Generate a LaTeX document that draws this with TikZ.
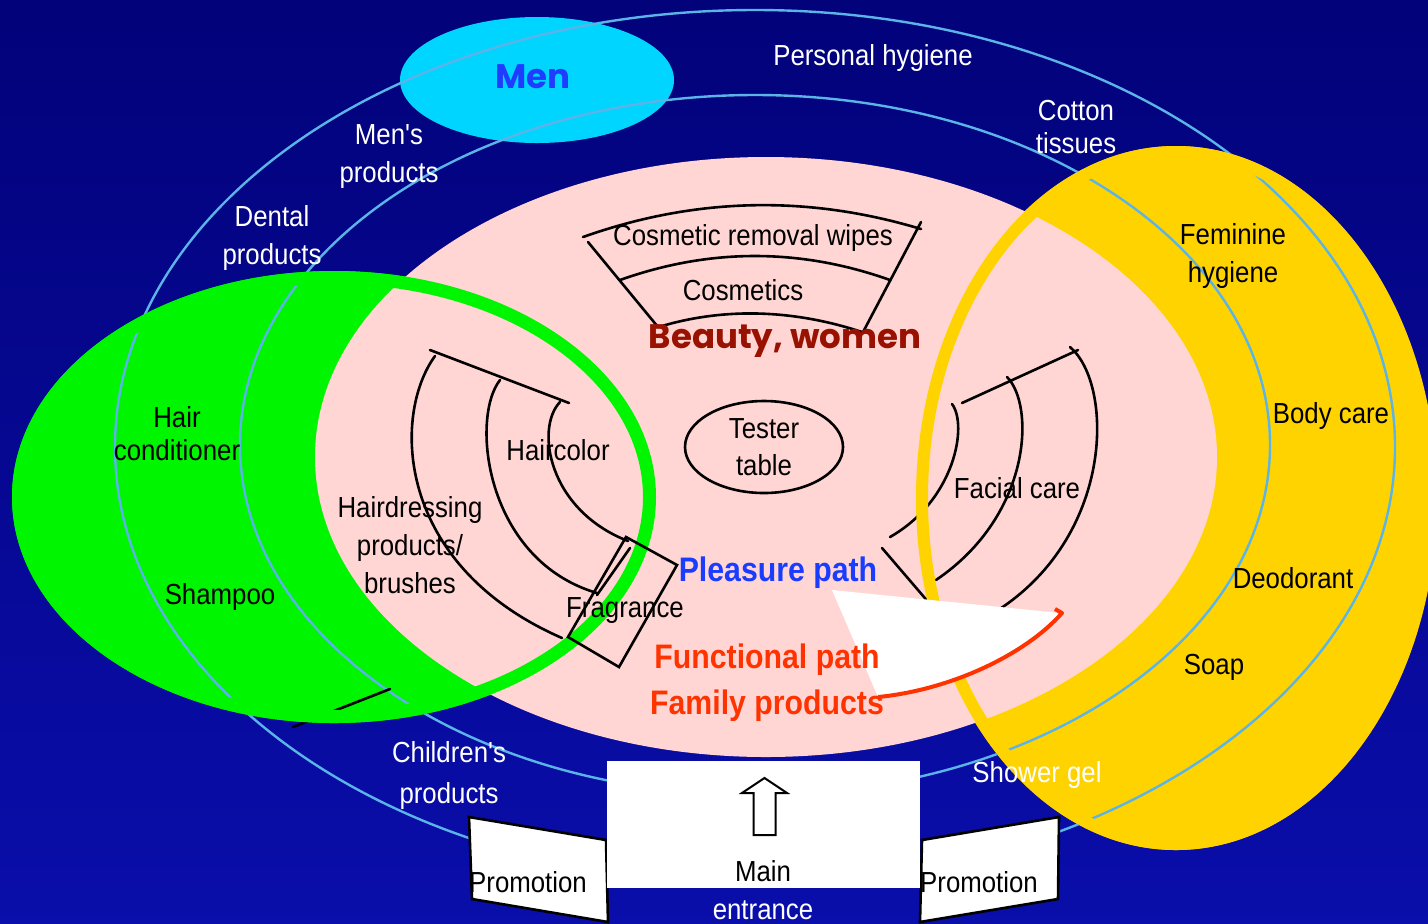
\documentclass[tikz,border=0pt]{standalone}
\usepackage{fontspec}
\setmainfont{Liberation Sans}[FakeStretch=0.89, Ligatures=TeXOff]
\newfontfamily\comicfont{Poppins}
\usetikzlibrary{shapes.geometric}
\definecolor{bgtop}{HTML}{02027A}
\definecolor{bgbot}{HTML}{0A0EAA}
\definecolor{skyline}{HTML}{5AB4E8}
\definecolor{greenf}{HTML}{00F500}
\definecolor{yellowf}{HTML}{FFD300}
\definecolor{pinkf}{HTML}{FFD6D4}
\definecolor{cyanf}{HTML}{00D5FF}
\definecolor{menblue}{HTML}{1F3CFF}
\definecolor{pathblue}{HTML}{1A3CFF}
\definecolor{beautyred}{HTML}{991100}
\definecolor{funcred}{HTML}{FF3300}
\begin{document}
\begin{tikzpicture}[x=0.5pt,y=-0.5pt,
  txt/.style={inner sep=0pt, align=center, yshift=-1.5pt, font=\fontsize{14.5}{19}\selectfont},
  wtxt/.style={txt, text=white},
  btxt/.style={txt, text=black},
  tight/.style={font=\fontsize{14.5}{16.5}\selectfont},
  boldtxt/.style={inner sep=0pt, yshift=-1.5pt, font=\fontsize{17}{23}\selectfont\bfseries},
  comic/.style={inner sep=0pt, yshift=-1pt, font=\comicfont\fontsize{17}{20}\selectfont\bfseries},
  ringline/.style={draw=skyline, line width=1.2pt},
  fanline/.style={draw=black, line width=1.3pt, line cap=round},
  boxline/.style={draw=black, line width=1.3pt, fill=white, line join=miter},
]
\useasboundingbox (0,0) rectangle (1428,923);
% background
\shade[top color=bgtop, bottom color=bgbot] (0,0) rectangle (1428,923);
% Men ellipse
\fill[cyanf] (537,80) ellipse [x radius=137, y radius=63];
% green and yellow fills
\fill[greenf] (334,497) ellipse [x radius=322, y radius=226];
\fill[yellowf] (1176,498) ellipse [x radius=261, y radius=352];
% light blue rings
\draw[ringline] (755,447) ellipse [x radius=640, y radius=437];
\draw[ringline] (755,445) ellipse [x radius=515, y radius=350];
% pink centre
\fill[pinkf] (766,457) ellipse [x radius=451, y radius=300];
% small black line at bottom of green
\draw[fanline] (293,727) -- (390,689);
% green ring
\draw[greenf, line width=6.5pt] (334,497) ellipse [x radius=315.5, y radius=219.5];
% cosmetic fan
\draw[fanline] (583,237) .. controls (696,197) and (808,195) .. (921,229);
\draw[fanline] (620,280) .. controls (710,248) and (800,248) .. (890,280);
\draw[fanline] (662,326) .. controls (727,307) and (795,310) .. (862,332);
\draw[fanline] (588,242) -- (658,327);
\draw[fanline] (921,222) -- (862,334);
% hair fan
\draw[fanline] (430,350) -- (569,403);
\draw[fanline] (435,356) .. controls (392,415) and (395,565) .. (562,638);
\draw[fanline] (500,380) .. controls (470,418) and (485,560) .. (597,593);
\draw[fanline] (560,402) .. controls (535,428) and (548,510) .. (628,541);
% fragrance box
\draw[fanline, line join=miter] (626,537) -- (677,565) -- (619,667) -- (568,637) -- cycle;
\draw[fanline] (630,548) -- (597,595);
% facial fan
\draw[fanline] (962,403) -- (1078,350);
\draw[fanline] (1070,347) .. controls (1115,385) and (1115,545) .. (985,618);
\draw[fanline] (1007,377) .. controls (1035,405) and (1032,515) .. (936,580);
\draw[fanline] (952,404) .. controls (968,425) and (955,500) .. (890,537);
\draw[fanline] (882,548) -- (930,604);
% yellow ring
\draw[yellowf, line width=6pt] (1176,498) ellipse [x radius=254, y radius=346];
% white sector with red arc
\fill[white] (832,590) -- (1060,613) .. controls (1025,655) and (950,690) .. (878,697) -- cycle;
\draw[funcred, line width=2pt, line join=round] (1055,609) -- (1062,613) .. controls (1025,655) and (950,690) .. (878,697);
% entrance
\draw[boxline] (469,817) -- (606,840) -- (608,922) -- (472,899) -- cycle;
\draw[boxline] (922,840) -- (1059,817) -- (1058,899) -- (920,922) -- cycle;
\fill[white] (607,761) rectangle (920,888);
\draw[fill=white, line width=1pt] (764.5,778) -- (787,793) -- (775.5,793) -- (775.5,835) -- (753.5,835) -- (753.5,793) -- (742,793) -- cycle;
% texts
\node[comic, text=menblue] (men) at (533,75) {Men};
\node[wtxt] (personal) at (873,55) {Personal hygiene};
\node[wtxt, tight] (cotton) at (1076,124.5) {Cotton\\tissues};
\node[wtxt] (mensprod) at (389,153.5) {Men's\\products};
\node[wtxt] (dental) at (272,235) {Dental\\products};
\node[btxt, tight] (hairc) at (177,430.5) {Hair\\conditioner};
\node[btxt] (shampoo) at (220,594) {Shampoo};
\node[btxt] (hairdress) at (410,542) {Hairdressing\\products/\\brushes};
\node[btxt] (haircolor) at (558,447) {Haircolor};
\node[btxt] (fragrance) at (625,608) {Fragrance};
\node[btxt] (wipes) at (753,235) {Cosmetic removal wipes};
\node[btxt] (cosmetics) at (743,287) {Cosmetics};
\node[comic, text=beautyred] (beauty) at (785,339) {Beauty, women};
\node[draw, ellipse, line width=1.3pt, minimum width=79pt, minimum height=46pt, btxt, yshift=1.5pt, font=\fontsize{14.5}{18.5}\selectfont] (tester) at (764,447) {Tester\\table};
\node[boldtxt, text=pathblue] (pleasure) at (778,570) {Pleasure path};
\node[btxt] (facial) at (1017,485) {Facial care};
\node[boldtxt, text=funcred] (functional) at (767,657) {Functional path};
\node[boldtxt, text=funcred] (family) at (767,703) {Family products};
\node[btxt] (feminine) at (1233,253) {Feminine\\hygiene};
\node[btxt] (body) at (1331,413) {Body care};
\node[btxt] (deo) at (1293,575) {Deodorant};
\node[btxt] (soap) at (1214,664) {Soap};
\node[wtxt] (shower) at (1037,772) {Shower gel};
\node[wtxt, font=\fontsize{14.5}{20.5}\selectfont] (children) at (449,772.5) {Children's\\products};
\node[btxt] (promol) at (528,879) {Promotion};
\node[btxt] (promor) at (979,879) {Promotion};
\node[btxt] (main) at (763,868) {Main};
\node[wtxt] (entrance) at (763,907) {entrance};
\end{tikzpicture}
\end{document}
